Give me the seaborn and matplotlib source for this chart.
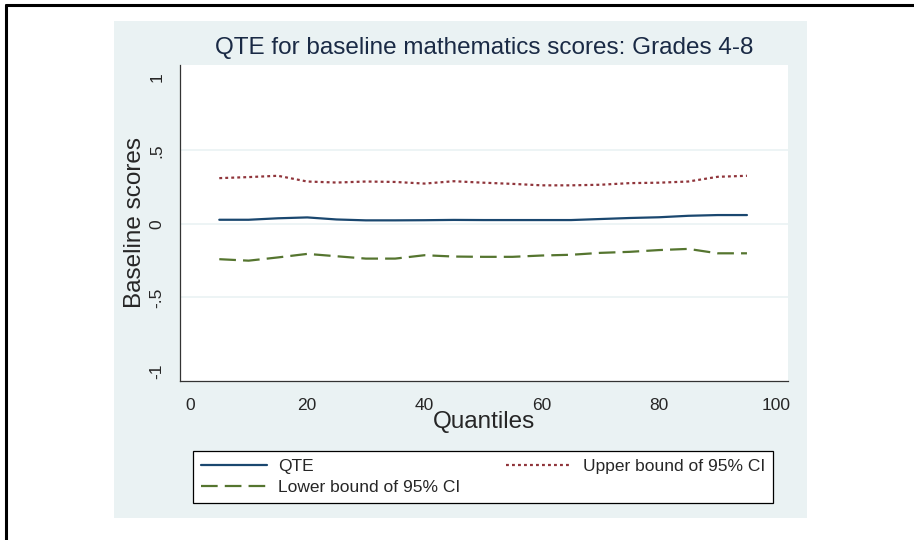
import matplotlib
matplotlib.use("Agg")
import matplotlib.pyplot as plt
import seaborn as sns
import pandas as pd
from matplotlib.patches import Rectangle
from matplotlib.lines import Line2D

quantiles = [5, 10, 15, 20, 25, 30, 35, 40, 45, 50, 55, 60, 65, 70, 75, 80, 85, 90, 95]
qte = [0.028, 0.028, 0.038, 0.044, 0.030, 0.024, 0.024, 0.025, 0.027, 0.026,
       0.026, 0.026, 0.026, 0.033, 0.040, 0.045, 0.055, 0.060, 0.060]
upper = [0.311, 0.318, 0.327, 0.288, 0.281, 0.288, 0.285, 0.274, 0.290, 0.280,
         0.272, 0.262, 0.262, 0.266, 0.277, 0.280, 0.288, 0.320, 0.327]
lower = [-0.240, -0.250, -0.228, -0.204, -0.220, -0.236, -0.236, -0.213, -0.222, -0.224,
         -0.224, -0.215, -0.210, -0.197, -0.190, -0.178, -0.170, -0.200, -0.200]
yticks = [-1, -0.5, 0, 0.5, 1]
ytick_labels = ["-1", "-.5", "0", ".5", "1"]
xticks = [0, 20, 40, 60, 80, 100]

sns.set_style("white")
plt.rcParams['font.family'] = ['Liberation Sans', 'DejaVu Sans']

W, H = 914, 540
fig = plt.figure(figsize=(W / 100, H / 100), dpi=100)
bg = "#EAF2F3"

# graph region
fig.patches.append(Rectangle((114 / W, 1 - 518 / H), (807 - 114) / W, (518 - 21) / H,
                             transform=fig.transFigure, facecolor=bg, edgecolor="none", zorder=-5))
# outer border (left and top)
fig.add_artist(Line2D([6 / W, 6 / W], [0, 1 - 5 / H], transform=fig.transFigure, color="black", lw=2.2))
fig.add_artist(Line2D([6 / W, 1], [1 - 5 / H, 1 - 5 / H], transform=fig.transFigure, color="black", lw=2.2))

ax = fig.add_axes([180 / W, 1 - 381 / H, (788 - 180) / W, (381 - 65) / H])
ax.set_zorder(2)
ax.set_facecolor("white")

df = pd.DataFrame({"q": quantiles, "qte": qte, "upper": upper, "lower": lower})
navy = "#1a476f"
maroon = "#90353b"
green = "#55752f"

sns.lineplot(data=df, x="q", y="qte", ax=ax, color=navy, lw=1.6, label="QTE")
sns.lineplot(data=df, x="q", y="lower", ax=ax, color=green, lw=1.6, label="Lower bound of 95% CI")
sns.lineplot(data=df, x="q", y="upper", ax=ax, color=maroon, lw=1.6, label="Upper bound of 95% CI")
lines = ax.get_lines()
lines[1].set_dashes([7.5, 3.2])
lines[2].set_dashes([1.3, 1.4])

for g in [-0.5, 0, 0.5]:
    ax.axhline(g, color=bg, lw=1.2, zorder=0)

ax.set_xlim(-1.7, 102)
ax.set_ylim(-1.068, 1.08)
ax.set_xticks(xticks)
ax.set_xticklabels([str(t) for t in xticks], fontsize=12.5)
ax.set_yticks(yticks)
ax.set_yticklabels(ytick_labels, fontsize=12.5, rotation=90, va="center")
ax.tick_params(axis="both", direction="out", length=6, width=0.9, color="#333333", pad=6)
ax.tick_params(axis="y", pad=5)

for s in ["top", "right"]:
    ax.spines[s].set_visible(False)
for s in ["left", "bottom"]:
    ax.spines[s].set_color("#333333")
    ax.spines[s].set_linewidth(0.9)

ax.set_xlabel("Quantiles", fontsize=17.5, labelpad=-1)
ax.set_ylabel("Baseline scores", fontsize=17.5, labelpad=3)
ax.set_title("QTE for baseline mathematics scores: Grades 4-8", fontsize=17.5, color="#1a2a45", pad=8)

ax.get_legend().remove()
h, l = ax.get_legend_handles_labels()
leg = fig.legend(h, l, ncol=2, loc="lower left", mode="expand",
                 bbox_to_anchor=(193 / W, 1 - 503 / H, (773 - 193) / W, (503 - 447) / H),
                 borderaxespad=0,
                 fontsize=12.5, frameon=True, fancybox=False, edgecolor="black",
                 facecolor="white", framealpha=1,
                 handlelength=3.8, borderpad=0.45, labelspacing=0.35, handletextpad=0.65)
leg.get_frame().set_linewidth(0.9)

fig.savefig("out.png", dpi=100, facecolor="white")
